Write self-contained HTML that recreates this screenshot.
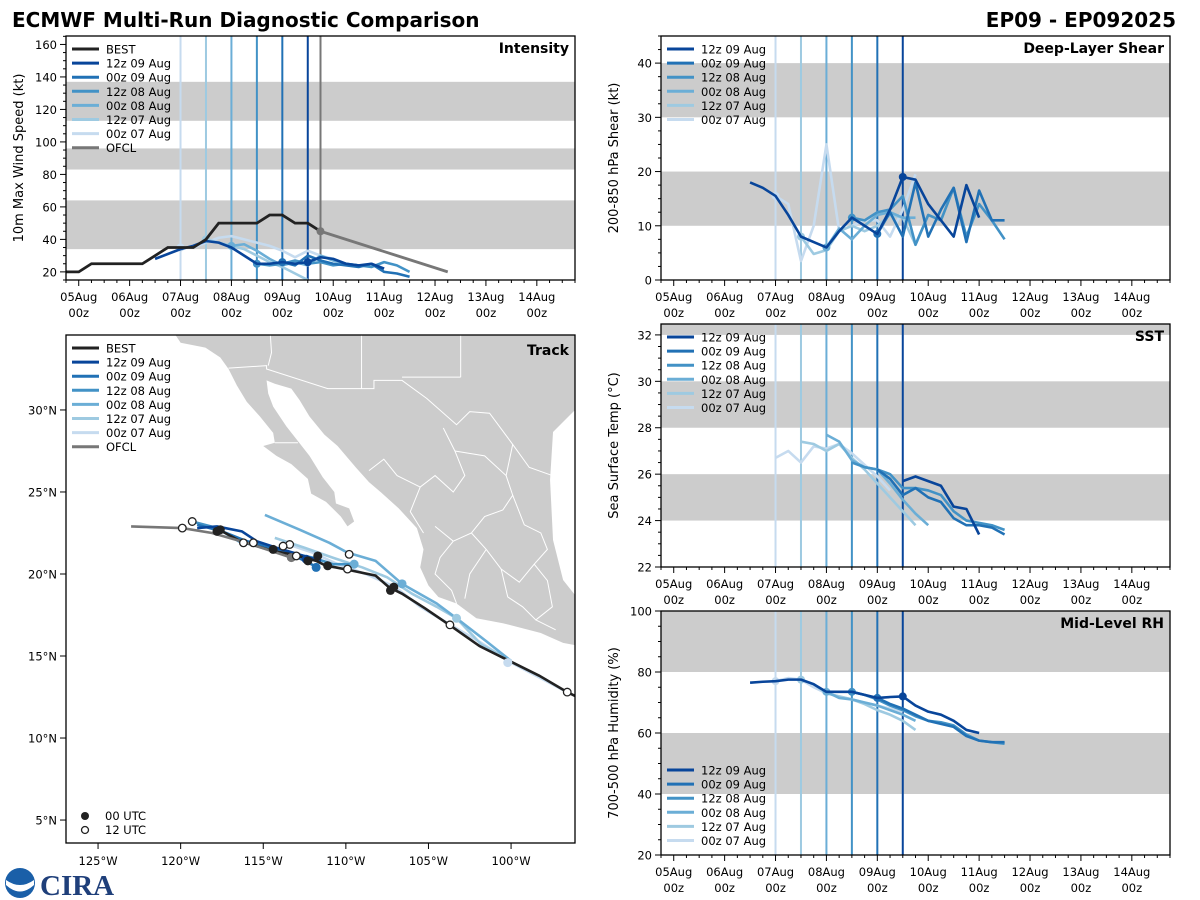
<!DOCTYPE html>
<html><head><meta charset="utf-8"><title>ECMWF Multi-Run Diagnostic Comparison</title>
<style>
html,body{margin:0;padding:0;background:#fff;}
svg{display:block;font-family:"DejaVu Sans","Liberation Sans",sans-serif;}
</style></head>
<body>
<svg id="fig" width="1200" height="900" viewBox="0 0 1200 900" xmlns="http://www.w3.org/2000/svg">
<text x="12" y="27" font-size="20" font-weight="bold">ECMWF Multi-Run Diagnostic Comparison</text>
<text x="1176" y="27" font-size="20" font-weight="bold" text-anchor="end">EP09 - EP092025</text>
<g>
<circle cx="20" cy="883" r="15" fill="#1a5fa8"></circle>
<path d="M6 880 Q20 890 34 880 L34 885 Q20 898 6 885 Z" fill="#fff"></path>
<text x="40" y="895" font-size="29" font-weight="bold" fill="#1f3f7a" font-family="Liberation Serif, serif">CIRA</text>
</g>
</svg>
<script>
// ---------- data ----------
const runLabels = ["12z 09 Aug","00z 09 Aug","12z 08 Aug","00z 08 Aug","12z 07 Aug","00z 07 Aug"];
const runInitDays = [4.5,4.0,3.5,3.0,2.5,2.0];
const dayTickLabels = ["05Aug","06Aug","07Aug","08Aug","09Aug","10Aug","11Aug","12Aug","13Aug","14Aug"];
const ofclInitDay = 4.75;

const intStart = [1.5,4.0,3.5,3.0,2.5,2.0];
const int12z09 = [28,31,34,36,39,38,35,30,25,25,26,25,26,29,28,25,24,25,22];
const int00z09 = [26,24,30,27,25,24,23,25,20,19,17];
const int12z08 = [25,24,25,27,25,26,24,25,24,23,26,24,20];
const int00z08 = [36,37,33,28,24,26,24,30,27,25,24];
const int12z07 = [40,38,36,34,30,26,23,19,15];
const int00z07 = [35,35,38,41,42,40,38,36,33,29,33,30,28];
const bestIntStart = -0.25;
const bestInt = [20,20,25,25,25,25,25,30,35,35,35,40,50,50,50,50,55,55,50,50,45];
const ofclIntDays = [4.75,5.25,5.75,6.25,6.75,7.25];
const ofclInt = [45,40,35,30,25,20];
const intTicks = [20,40,60,80,100,120,140,160];
const intBands = [[34,64],[83,96],[113,137]];

const shrStart = [1.5,4.0,3.5,3.0,2.5,2.0];
const shr12z09 = [18,17,15.5,12,8,7,6,9,11.5,10,8.5,13,19,18.5,14,11,8,17.5,11.5];
const shr00z09 = [8.5,12.5,8,18,8,13,17,7,16.5,11,11];
const shr12z08 = [11.5,11,12.5,13,15.5,6.5,12,11,17,8,14,11,7.5];
const shr00z08 = [6,9.5,7.5,10,12,12.5,11.5,11.5];
const shr12z07 = [8,4.8,5.5,9,10,9,10,12,11.5,6.5,12,11];
const shr00z07 = [15.5,14,3.5,10,25,9,10,11,11,8,13,19.5];
const shrTicks = [0,10,20,30,40];
const shrBands = [[10,20],[30,40]];

const sstStart = [4.5,4.0,3.5,3.0,2.5,2.0];
const sst12z09 = [25.7,25.9,25.7,25.5,24.6,24.5,23.4];
const sst00z09 = [26.2,25.8,25.1,25.4,25.0,24.8,24.1,23.8,23.8,23.7,23.4];
const sst12z08 = [26.5,26.3,26.2,26.0,25.4,25.4,25.3,25.1,24.4,24.0,23.9,23.8,23.6];
const sst00z08 = [27.7,27.4,26.6,26.3,26.2,25.6,24.9,24.3,23.8];
const sst12z07 = [27.4,27.3,27.0,27.3,26.7,26.2,25.6,25.0,24.4,23.8];
const sst00z07 = [26.7,27.0,26.5,27.2,27.1,27.3,26.9,26.4,25.9,25.3];
const sstTicks = [22,24,26,28,30,32];
const sstBands = [[24,26],[28,30],[32,33]];

const rhStart = [1.5,4.0,3.5,3.0,2.5,2.0];
const rh12z09 = [76.5,76.8,77,77.5,77.5,76,73.5,73.5,73.5,72.5,71.5,71.8,72,69,67,66,64,61,60];
const rh00z09 = [71.5,69.5,68,66,64,63,62,59,57.5,57,57];
const rh12z08 = [73.5,72.5,71,69,67.5,65.5,64,63.5,62.5,59.5,57.5,57,56.5];
const rh00z08 = [73.5,71.5,71,70,69,67.5,66,64];
const rh12z07 = [77.5,76,73,72,71,69.5,67.5,66,64,61];
const rh00z07 = [77,78,77.5,75,73,72,71,70,69,68,67];
const rhTicks = [20,40,60,80,100];
const rhBands = [[40,60],[80,100]];

// track
const bestLon = [-95.6,-96.6,-98.3,-100.1,-101.9,-103.6,-105.2,-106.6,-107.4,-108.2,-109.6,-110.6,-111.2,-111.8,-112.5,-113.3,-114.4,-115.4,-116.4,-117.3,-117.7];
const bestLat = [12.3,12.8,13.8,14.7,15.6,16.8,17.9,18.8,19.2,19.9,20.2,20.4,20.5,20.8,21.0,21.2,21.4,21.7,22.0,22.5,22.7];
const best00Lon = [-107.3,-107.1,-111.1,-111.7,-114.4,-117.6,-117.8,-112.3];
const best00Lat = [19.0,19.2,20.5,21.1,21.5,22.7,22.6,20.8];
const best12Lon = [-96.6,-103.7,-109.9,-109.8,-113.4,-116.2,-119.9,-119.3,-113.0,-115.6,-113.8];
const best12Lat = [12.8,16.9,20.3,21.2,21.8,21.9,22.8,23.2,21.1,21.9,21.7];
const ofclLon = [-113.3,-116.0,-118.1,-119.9,-123.0];
const ofclLat = [21.0,21.9,22.5,22.8,22.9];
const trk12z09Lon = [-119.0,-117.8,-116.3,-115.4,-114.2,-113.2,-112.2,-111.5];
const trk12z09Lat = [22.8,22.9,22.6,22.0,21.6,21.3,21.0,20.8];
const trk00z09Lon = [-119.0,-117.5,-116,-114.5,-113.3,-112.3,-111.7];
const trk00z09Lat = [23.0,22.6,22.0,21.6,21.2,20.7,20.4];
const trk12z08Lon = [-119.3,-117.8,-116.5,-115,-113.5,-112,-110.8,-109.5];
const trk12z08Lat = [23.2,22.8,22.0,21.6,21.3,21.0,20.6,20.6];
const trk00z08Lon = [-114.9,-112.8,-111.0,-109.9,-108.2,-106.6,-104.5,-103.3,-101.5,-100.0];
const trk00z08Lat = [23.6,22.7,21.9,21.3,20.8,19.4,18.2,17.3,15.9,14.7];
const trk12z07Lon = [-114.3,-112.5,-110.8,-109,-107.5,-106,-104.5,-103.3,-101.8,-100.0];
const trk12z07Lat = [22.2,21.6,21.0,20.4,19.8,18.8,18.0,17.3,15.7,14.7];
const trk00z07Lon = [-113.8,-112,-110.5,-108.8,-107,-105.5,-103.5,-101.8,-100,-98.3,-96.8];
const trk00z07Lat = [21.9,21.3,20.6,20.0,19.2,18.0,16.8,15.8,14.6,13.7,12.9];
const lonTicks = [-125,-120,-115,-110,-105,-100];
const latTicks = [5,10,15,20,25,30];

// ---------- helpers ----------
const NS = "http://www.w3.org/2000/svg";
const svg = document.getElementById('fig');
const runColors = ["#08459a","#2171b5","#4292c6","#6baed6","#9ecae1","#c6dbef"];
const FS = 11.5;
function mk(tag, attrs, parent){
  const e = document.createElementNS(NS, tag);
  for (const k in attrs) e.setAttribute(k, attrs[k]);
  (parent||svg).appendChild(e);
  return e;
}
function lin(d0,d1,r0,r1){ return v => r0 + (v-d0)/(d1-d0)*(r1-r0); }

function timePanel(cfg){
  const g = mk('g', {});
  
  
  const X = lin(-0.25, 9.75, cfg.x0, cfg.x1);
  const Y = lin(cfg.ymin, cfg.ymax, cfg.y1, cfg.y0);
  const clipId = 'clip-' + cfg.name;
  const cp = mk('clipPath', {id: clipId}, g);
  mk('rect', {x:cfg.x0, y:cfg.y0, width:cfg.x1-cfg.x0, height:cfg.y1-cfg.y0}, cp);
  const inner = mk('g', {'clip-path': 'url(#'+clipId+')'}, g);
  
  
  cfg.bands.forEach(b => {
    const r = mk('rect', {x:cfg.x0, y:Y(b[1]), width:cfg.x1-cfg.x0, height:Y(b[0])-Y(b[1]), fill:'#cccccc'}, inner);
    
    
  });
  for (let i = runInitDays.length-1; i >= 0; i--) {
    const l = mk('line', {x1:X(runInitDays[i]), x2:X(runInitDays[i]), y1:cfg.y0, y2:cfg.y1, stroke:runColors[i], 'stroke-width':2}, inner);
    
    
  }
  if (cfg.ofcl) {
    const l = mk('line', {x1:X(ofclInitDay), x2:X(ofclInitDay), y1:cfg.y0, y2:cfg.y1, stroke:'#777', 'stroke-width':2}, inner);
    
    
  }
  for (let i = cfg.series.length-1; i >= 0; i--) {
    const s = cfg.series[i];
    const pts = s.map((v,k)=>X(cfg.starts[i]+0.25*k)+','+Y(v)).join(' ');
    const p = mk('polyline', {points:pts, fill:'none', stroke:runColors[i], 'stroke-width':2.6, 'stroke-linejoin':'round'}, inner);
    
    
    if (cfg.dots) {
      const k = Math.round((runInitDays[i]-cfg.starts[i])/0.25);
      if (k >= 0 && k < s.length) {
        const c = mk('circle', {cx:X(runInitDays[i]), cy:Y(s[k]), r:4, fill:runColors[i]}, inner);
        
        
      }
    }
  }
  if (cfg.best) {
    const pts = cfg.best.map((v,i)=>X(bestIntStart+0.25*i)+','+Y(v)).join(' ');
    const p = mk('polyline', {points:pts, fill:'none', stroke:'#222', 'stroke-width':2.8}, inner);
    
    
    const op = ofclIntDays.map((d,i)=>X(d)+','+Y(ofclInt[i])).join(' ');
    const o = mk('polyline', {points:op, fill:'none', stroke:'#777', 'stroke-width':2.8}, inner);
    
    
    const oc = mk('circle', {cx:X(ofclIntDays[0]), cy:Y(ofclInt[0]), r:4, fill:'#777'}, inner);
    
    
  }
  const fr = mk('rect', {x:cfg.x0, y:cfg.y0, width:cfg.x1-cfg.x0, height:cfg.y1-cfg.y0, fill:'none', stroke:'#000', 'stroke-width':1.3}, g);
  
  
  for (let q = -1; q <= 39; q++) {
    const d = q*0.25; if (d < -0.25 || d > 9.75) continue;
    const major = (q % 4 === 0);
    const t = mk('line', {x1:X(d), x2:X(d), y1:cfg.y1, y2:cfg.y1+(major?6:3), stroke:'#000', 'stroke-width':1}, g);
    
    
  }
  dayTickLabels.forEach((lab,i)=>{
    const t = mk('text', {x:X(i), y:cfg.y1+21, 'font-size':FS, 'text-anchor':'middle'}, g);
    t.textContent = lab;
    
    
    const t2 = mk('text', {x:X(i), y:cfg.y1+37, 'font-size':FS, 'text-anchor':'middle'}, g);
    t2.textContent = '00z';
    
    
  });
  for (let v = cfg.ymin; v <= cfg.ymax + 1e-6; v += cfg.minor) {
    const vv = Math.round(v*100)/100;
    const major = cfg.ticks.some(t=>Math.abs(t-vv)<1e-6);
    const t = mk('line', {x1:cfg.x0-(major?6:3), x2:cfg.x0, y1:Y(vv), y2:Y(vv), stroke:'#000', 'stroke-width':1}, g);
    
    
  }
  cfg.ticks.forEach(v=>{
    const t = mk('text', {x:cfg.x0-9, y:Y(v)+4.5, 'font-size':FS, 'text-anchor':'end'}, g);
    t.textContent = v;
    
    
  });
  const yl = mk('text', {x:0, y:0, 'font-size':13, 'text-anchor':'middle', transform:'translate('+(cfg.x0-43)+','+((cfg.y0+cfg.y1)/2)+') rotate(-90)'}, g);
  yl.textContent = cfg.ylabel;
  
  
  const tt = mk('text', {x:cfg.x1-6, y:cfg.y0+17, 'font-size':14, 'font-weight':'bold', 'text-anchor':'end'}, g);
  tt.textContent = cfg.title;
  
  
  legend(g, cfg.x0+6, cfg.legendY, cfg.best ? true : false);
}

function legend(g, x, y, withBest){
  const labels = [], cols = [];
  if (withBest) { labels.push('BEST'); cols.push('#222'); }
  runLabels.forEach((l,i)=>{ labels.push(l); cols.push(runColors[i]); });
  if (withBest) { labels.push('OFCL'); cols.push('#777'); }
  const lg = mk('g', {}, g);
  
  
  labels.forEach((l,i)=>{
    const yy = y + i*14.1;
    const ln = mk('line', {x1:x, x2:x+27, y1:yy, y2:yy, stroke:cols[i], 'stroke-width':3}, lg);
    
    
    const t = mk('text', {x:x+34, y:yy+4.5, 'font-size':FS}, lg);
    t.textContent = l;
    
    
  });
}

timePanel({name:'intensity', x0:66, x1:575, y0:36, y1:280, ymin:15, ymax:165.2, bands:intBands, ticks:intTicks, minor:5,
  series:[int12z09,int00z09,int12z08,int00z08,int12z07,int00z07], starts:intStart, best:bestInt, ofcl:true, dots:true,
  ylabel:'10m Max Wind Speed (kt)', title:'Intensity', legendY:49});
timePanel({name:'shear', x0:661, x1:1170, y0:36, y1:280, ymin:0, ymax:45, bands:shrBands, ticks:shrTicks, minor:2.5,
  series:[shr12z09,shr00z09,shr12z08,shr00z08,shr12z07,shr00z07], starts:shrStart, dots:true,
  ylabel:'200-850 hPa Shear (kt)', title:'Deep-Layer Shear', legendY:49});
timePanel({name:'sst', x0:661, x1:1170, y0:324, y1:567, ymin:22, ymax:32.47, bands:sstBands, ticks:sstTicks, minor:0.5,
  series:[sst12z09,sst00z09,sst12z08,sst00z08,sst12z07,sst00z07], starts:sstStart, dots:false,
  ylabel:'Sea Surface Temp (°C)', title:'SST', legendY:337});
timePanel({name:'rh', x0:661, x1:1170, y0:611, y1:855, ymin:20, ymax:100, bands:rhBands, ticks:rhTicks, minor:5,
  series:[rh12z09,rh00z09,rh12z08,rh00z08,rh12z07,rh00z07], starts:rhStart, dots:true,
  ylabel:'700-500 hPa Humidity (%)', title:'Mid-Level RH', legendY:770});

// ---------- track map ----------
(function(){
  const x0=66,x1=575,y0=335,y1=843;
  const LX = lin(-126.94,-96.13,x0,x1);
  const LY = lin(3.6,34.57,y1,y0);
  const g = mk('g', {});
  
  
  const cp = mk('clipPath', {id:'clip-track'}, g);
  mk('rect', {x:x0,y:y0,width:x1-x0,height:y1-y0}, cp);
  const inner = mk('g', {'clip-path':'url(#clip-track)'}, g);
  
  
  const land = [[-120.6,35],[-120.0,34.1],[-118.5,33.8],[-117.6,33.2],[-117.1,32.5],[-116.6,31.5],[-116.0,30.5],[-115.2,29.6],[-114.4,28.6],[-114.3,28.0],[-115.0,27.8],[-114.2,27.2],[-113.3,26.7],[-112.3,25.8],[-112.1,24.9],[-111.2,24.4],[-110.3,23.5],[-109.9,22.9],[-109.5,23.2],[-109.8,24.0],[-110.6,24.3],[-110.7,25.0],[-111.4,25.9],[-112.2,27.2],[-112.9,28.1],[-113.6,29.0],[-114.4,30.2],[-114.7,31.0],[-114.8,31.8],[-114.3,31.6],[-113.3,31.3],[-112.8,30.6],[-112.2,29.6],[-111.3,28.5],[-110.5,27.8],[-109.4,26.5],[-108.6,25.6],[-107.9,25.0],[-106.8,24.0],[-105.7,22.8],[-105.3,21.5],[-105.5,20.4],[-105.0,19.3],[-104.4,18.6],[-103.3,18.2],[-102.1,17.3],[-100.5,17.0],[-98.2,16.4],[-96.85,15.8],[-95.8,15.6],[-95.8,18.3],[-96.85,19.63],[-97.46,22.07],[-97.64,25.73],[-97.46,28.66],[-96.13,30.0],[-95.8,35]];
  const lp = mk('polygon', {points: land.map(p=>LX(p[0])+','+LY(p[1])).join(' '), fill:'#cccccc', stroke:'none'}, inner);
  
  
  const borders = [
    [[-117.1,32.55],[-114.8,32.7],[-114.8,32.5],[-111.1,31.3],[-108.3,31.3],[-108.3,31.8],[-106.6,31.8],[-105.1,30.7],[-103.3,29.1],[-102.5,29.9],[-101.3,29.8],[-99.9,27.9],[-98.9,26.5],[-97.5,26.0]],
    [[-109.05,35],[-109.05,31.3]],[[-103.05,35],[-103.05,32.0]],[[-106.6,32.0],[-103.05,32.0]],
    [[-114.6,35],[-114.5,33.5],[-114.7,32.7]],
    [[-114.3,28.0],[-112.9,28.0]],
    [[-108.6,26.3],[-107.7,27.0],[-106.9,26.0],[-105.5,25.3],[-104.6,26.0],[-103.5,25.0],[-102.8,26.0],[-103.4,27.5],[-104.1,28.9]],
    [[-103.4,27.5],[-101.6,27.2],[-100.3,26.0],[-99.9,27.9]],
    [[-105.5,25.3],[-106.1,23.8],[-105.3,22.5]],
    [[-104.6,22.9],[-103.5,22.0],[-102.4,22.5],[-101.6,23.5],[-100.5,23.9],[-99.9,24.8],[-100.3,26.0]],
    [[-103.5,22.0],[-104.3,21.0],[-104.6,20.0],[-103.6,19.0],[-103.3,18.2]],
    [[-102.4,22.5],[-101.5,21.5],[-100.6,20.3],[-99.5,19.5],[-98.6,20.6],[-97.8,21.5],[-98.2,22.5],[-99.2,23.0],[-99.9,24.8]],
    [[-101.5,21.5],[-102.5,20.0],[-102.8,18.5]],
    [[-100.6,20.3],[-100.2,18.6],[-99.3,18.0],[-98.5,17.2],[-97.5,18.0],[-97.8,19.6],[-98.6,20.6]],
    [[-98.5,17.2],[-97.3,16.6]]
  ];
  borders.forEach(b=>{
    const p = mk('polyline', {points:b.map(q=>LX(q[0])+','+LY(q[1])).join(' '), fill:'none', stroke:'#fff', 'stroke-width':1}, inner);
    
    
  });
  const tracks = [[trk12z09Lon,trk12z09Lat],[trk00z09Lon,trk00z09Lat],[trk12z08Lon,trk12z08Lat],[trk00z08Lon,trk00z08Lat],[trk12z07Lon,trk12z07Lat],[trk00z07Lon,trk00z07Lat]];
  for (let i = tracks.length-1; i >= 0; i--) {
    const pts = tracks[i][0].map((lo,k)=>LX(lo)+','+LY(tracks[i][1][k])).join(' ');
    const p = mk('polyline', {points:pts, fill:'none', stroke:runColors[i], 'stroke-width':2.6, 'stroke-linejoin':'round'}, inner);
    
    
  }
  const bp = mk('polyline', {points:bestLon.map((lo,k)=>LX(lo)+','+LY(bestLat[k])).join(' '), fill:'none', stroke:'#222', 'stroke-width':2.6}, inner);
  
  
  const op = mk('polyline', {points:ofclLon.map((lo,k)=>LX(lo)+','+LY(ofclLat[k])).join(' '), fill:'none', stroke:'#777', 'stroke-width':2.6}, inner);
  
  
  const od = mk('circle', {cx:LX(ofclLon[0]), cy:LY(ofclLat[0]), r:4.5, fill:'#777'}, inner);
  
  
  const initDots = [[3,-106.6,19.4],[4,-103.3,17.3],[5,-100.2,14.6],[3,-109.5,20.6],[1,-111.8,20.4],[0,-112.4,20.9]];
  initDots.forEach(d=>{
    const c = mk('circle', {cx:LX(d[1]), cy:LY(d[2]), r:4.5, fill:runColors[d[0]]}, inner);
    
    
  });
  best00Lon.forEach((lo,k)=>{
    const c = mk('circle', {cx:LX(lo), cy:LY(best00Lat[k]), r:4.5, fill:'#222'}, inner);
    
    
  });
  best12Lon.forEach((lo,k)=>{
    const c = mk('circle', {cx:LX(lo), cy:LY(best12Lat[k]), r:3.8, fill:'#fff', stroke:'#222', 'stroke-width':1.3}, inner);
    
    
  });
  const fr = mk('rect', {x:x0,y:y0,width:x1-x0,height:y1-y0,fill:'none',stroke:'#000','stroke-width':1.3}, g);
  
  
  lonTicks.forEach(v=>{
    const t = mk('line', {x1:LX(v),x2:LX(v),y1:y1,y2:y1+6,stroke:'#000'}, g);
    
    
    const l = mk('text', {x:LX(v), y:y1+22, 'font-size':FS, 'text-anchor':'middle'}, g);
    l.textContent = Math.abs(v) + '°W';
    
    
  });
  latTicks.forEach(v=>{
    const t = mk('line', {x1:x0-6,x2:x0,y1:LY(v),y2:LY(v),stroke:'#000'}, g);
    
    
    const l = mk('text', {x:x0-9, y:LY(v)+4.5, 'font-size':FS, 'text-anchor':'end'}, g);
    l.textContent = v + '°N';
    
    
  });
  const tt = mk('text', {x:x1-6, y:y0+20, 'font-size':14, 'font-weight':'bold', 'text-anchor':'end'}, g);
  tt.textContent = 'Track';
  
  
  legend(g, x0+6, y0+13, true);
  const ml = mk('g', {}, g);
  
  
  const m1 = mk('circle', {cx:85, cy:816, r:4, fill:'#222'}, ml);
  
  
  const t1 = mk('text', {x:105, y:820, 'font-size':FS}, ml);
  t1.textContent = '00 UTC';
  
  
  const m2 = mk('circle', {cx:85, cy:830, r:3.5, fill:'#fff', stroke:'#222', 'stroke-width':1.3}, ml);
  
  
  const t2 = mk('text', {x:105, y:834, 'font-size':FS}, ml);
  t2.textContent = '12 UTC';
  
  
})();
</script>
</body></html>
